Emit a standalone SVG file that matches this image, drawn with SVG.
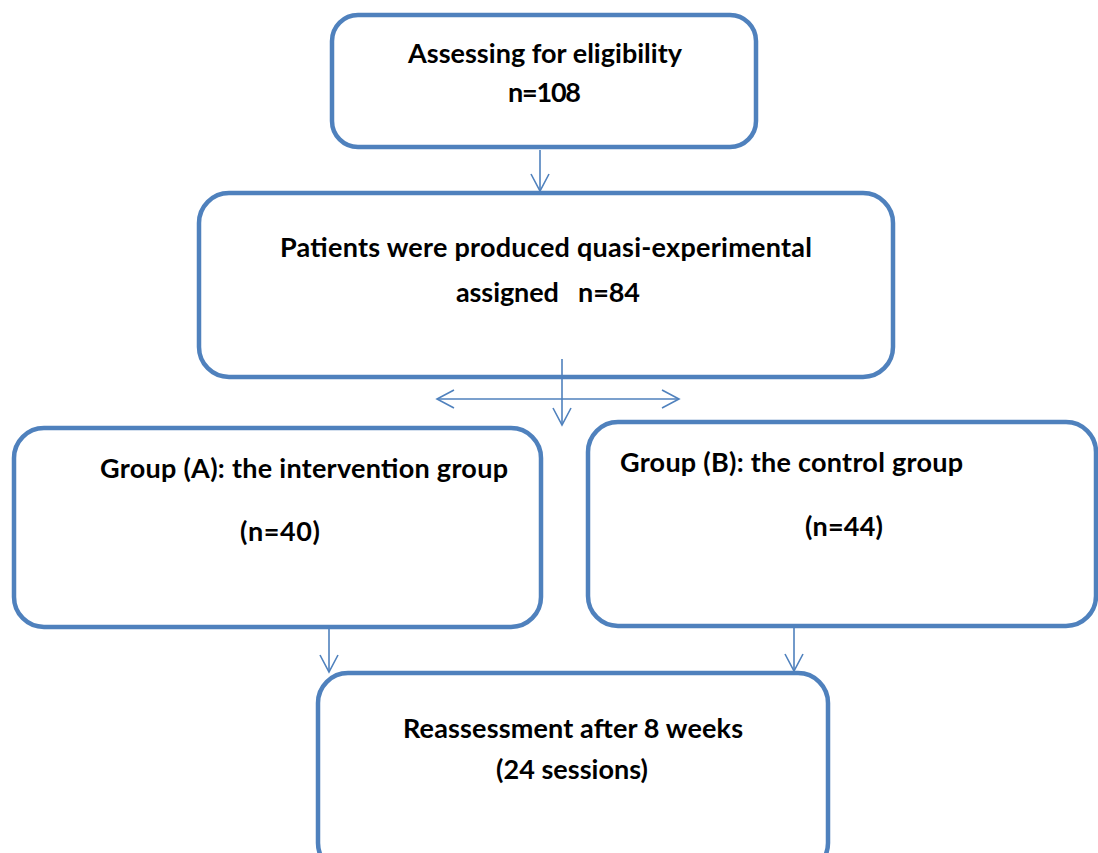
<svg xmlns="http://www.w3.org/2000/svg" width="1098" height="853" viewBox="0 0 1098 853">
<style>
.box{fill:#ffffff;stroke:#4F81BD;stroke-width:4.5}
.lbl{font-family:Lato,"Liberation Sans",sans-serif;font-weight:bold;font-size:27px;fill:#000000}
.con{stroke:#4F81BD;stroke-width:1.6;fill:none}
</style>
<defs>
<marker id="arr" viewBox="0 0 20 20" refX="18" refY="10" markerWidth="20" markerHeight="20" markerUnits="userSpaceOnUse" orient="auto-start-reverse">
<path d="M1,1 L18,10 L1,19" fill="none" stroke="#4F81BD" stroke-width="1.6"/>
</marker>
</defs>
<rect width="1098" height="853" fill="#ffffff"/>
<g id="node-eligibility">
<rect class="box" x="332" y="15" width="424" height="132" rx="26"/>
<text class="lbl" x="408" y="63" textLength="274">Assessing for eligibility</text>
<text class="lbl" x="508" y="102" textLength="73">n=108</text>
</g>
<g id="node-assigned">
<rect class="box" x="199" y="193" width="694" height="184" rx="30"/>
<text class="lbl" x="280" y="257" textLength="532">Patients were produced quasi-experimental</text>
<text class="lbl" x="456" y="302" textLength="184" xml:space="preserve">assigned   n=84</text>
</g>
<g id="node-groupA">
<rect class="box" x="14" y="428" width="527" height="199" rx="30"/>
<text class="lbl" x="100" y="478" textLength="408">Group (A): the intervention group</text>
<text class="lbl" x="240" y="541" textLength="80">(n=40)</text>
</g>
<g id="node-groupB">
<rect class="box" x="588" y="422" width="508" height="204" rx="30"/>
<text class="lbl" x="620" y="472" textLength="343">Group (B): the control group</text>
<text class="lbl" x="805" y="536" textLength="78">(n=44)</text>
</g>
<g id="node-reassessment">
<rect class="box" x="318" y="673" width="510" height="200" rx="30"/>
<text class="lbl" x="403" y="738" textLength="340">Reassessment after 8 weeks</text>
<text class="lbl" x="496" y="779" textLength="152">(24 sessions)</text>
</g>
<g id="connectors">
<line class="con" x1="540" y1="150" x2="540" y2="191" marker-end="url(#arr)"/>
<line class="con" x1="562" y1="359" x2="562" y2="425" marker-end="url(#arr)"/>
<line class="con" x1="437" y1="399" x2="679" y2="399" marker-start="url(#arr)" marker-end="url(#arr)"/>
<line class="con" x1="329" y1="629" x2="329" y2="672" marker-end="url(#arr)"/>
<line class="con" x1="794" y1="628" x2="794" y2="671" marker-end="url(#arr)"/>
</g>
</svg>
